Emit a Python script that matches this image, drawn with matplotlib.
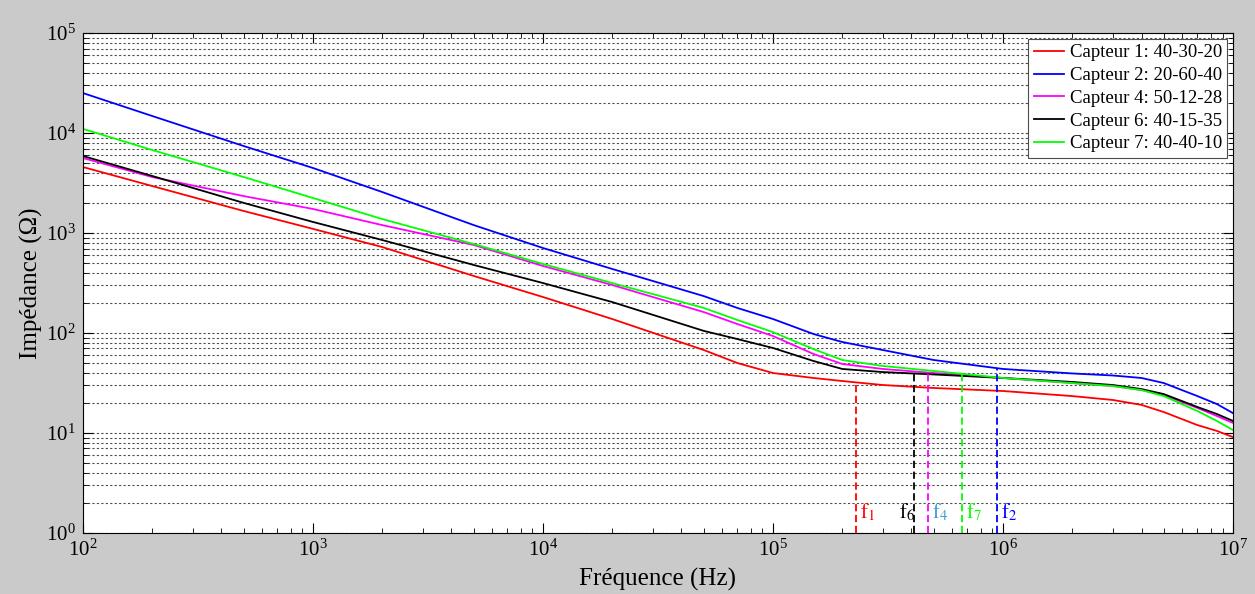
import numpy as np
import matplotlib
matplotlib.use('Agg')
import matplotlib.pyplot as plt
from matplotlib.ticker import LogLocator, NullFormatter

plt.rcParams['font.family'] = ['Liberation Serif', 'DejaVu Serif']
plt.rcParams['mathtext.fontset'] = 'stix'

# frequences (Hz)
freq = [1e2, 2e2, 5e2, 1e3, 2e3, 5e3, 1e4, 2e4, 5e4, 7e4, 1e5, 1.5e5, 2e5, 3e5, 5e5,
        1e6, 2e6, 3e6, 4e6, 5e6, 7e6, 8.5e6, 1e7]

# impedances (Ohm)
z_capteur1 = [4570, 2950, 1660, 1100, 724, 372, 229, 138, 67.6, 50.1, 39.8, 35.5, 33.1, 30.2, 28.2,
              26.3, 23.4, 21.4, 19.1, 16.2, 12.0, 10.5, 9.1]
z_capteur2 = [25100, 14800, 7410, 4470, 2570, 1200, 708, 437, 234, 178, 138, 97.7, 81.3, 67.6, 53.7,
              43.7, 39.4, 37.6, 35.5, 31.6, 23.4, 19.5, 15.8]
z_capteur4 = [5620, 3630, 2340, 1740, 1200, 759, 468, 302, 162, 123, 93.3, 61.7, 49.0, 43.7, 39.8,
              35.5, 31.6, 29.5, 26.9, 24.0, 17.8, 14.8, 12.6]
z_capteur6 = [5890, 3720, 2000, 1290, 851, 479, 316, 204, 105, 87.0, 70.8, 52.5, 43.7, 40.7, 38.5,
              35.5, 32.4, 30.2, 27.5, 24.5, 18.2, 15.5, 13.2]
z_capteur7 = [11000, 6760, 3630, 2240, 1380, 776, 490, 316, 178, 135, 102, 69.0, 53.7, 46.8, 41.7,
              35.5, 31.6, 29.5, 26.9, 23.4, 16.6, 13.2, 10.7]

labels = ['Capteur 1: 40-30-20', 'Capteur 2: 20-60-40', 'Capteur 4: 50-12-28',
          'Capteur 6: 40-15-35', 'Capteur 7: 40-40-10']
couleurs = ['#ff0000', '#0000ff', '#ff00ff', '#000000', '#00ff00']
series = [z_capteur1, z_capteur2, z_capteur4, z_capteur6, z_capteur7]

# frequences de coupure
f_noms = ['1', '6', '4', '7', '2']
f_valeurs = [2.3e5, 4.1e5, 4.7e5, 6.6e5, 9.4e5]
f_series = [0, 3, 2, 4, 1]
f_couleurs_txt = ['#ff0000', '#000000', '#3d9ad1', '#00ff00', '#0000ff']
f_decal = [3, -11, 3, 3, 3]

fig = plt.figure(figsize=(12.55, 5.94), dpi=100, facecolor='#cacaca')
ax = fig.add_axes([0.0661, 0.1027, 0.9164, 0.8417])

for z, c, lab in zip(series, couleurs, labels):
    ax.plot(freq, z, color=c, lw=1.3, label=lab)

for nom, fv, idx, ct, dx in zip(f_noms, f_valeurs, f_series, f_couleurs_txt, f_decal):
    ztop = 10 ** np.interp(np.log10(fv), np.log10(freq), np.log10(series[idx]))
    ax.plot([fv, fv], [1, ztop], color=couleurs[idx], lw=1.3, ls=(0, (4, 2)))
    ax.annotate(r'$\mathrm{f}_{%s}$' % nom, xy=(fv, 1.6), xytext=(dx, 0),
                textcoords='offset points', color=ct, fontsize=15,
                ha='left', va='center')

ax.set_xscale('log')
ax.set_yscale('log')
ax.set_xlim(1e2, 1e7)
ax.set_ylim(1, 1e5)

ax.yaxis.set_minor_locator(LogLocator(base=10, subs=np.arange(2, 10)))
ax.xaxis.set_minor_locator(LogLocator(base=10, subs=np.arange(2, 10)))
ax.xaxis.set_minor_formatter(NullFormatter())
ax.yaxis.set_minor_formatter(NullFormatter())

ax.grid(True, which='both', axis='y', color='0.3', lw=0.8, ls=(0, (2, 2)))
ax.tick_params(which='both', direction='in', top=True, right=True, labelsize=15)
ax.tick_params(which='major', length=7, width=0.8, pad=5)
ax.tick_params(which='minor', length=3.5, width=0.6)
for s in ax.spines.values():
    s.set_linewidth(0.8)

ax.set_xlabel('Fréquence (Hz)', fontsize=18, labelpad=5)
ax.set_ylabel('Impédance (Ω)', fontsize=18, labelpad=2)

leg = ax.legend(loc='upper right', fontsize=13.5, handlelength=1.6,
                handletextpad=0.3, labelspacing=0.3, borderaxespad=0.3,
                borderpad=0.3, fancybox=False, framealpha=1, edgecolor='0.3')
leg.get_frame().set_linewidth(0.8)

fig.savefig('out.png', dpi=100, facecolor=fig.get_facecolor())
